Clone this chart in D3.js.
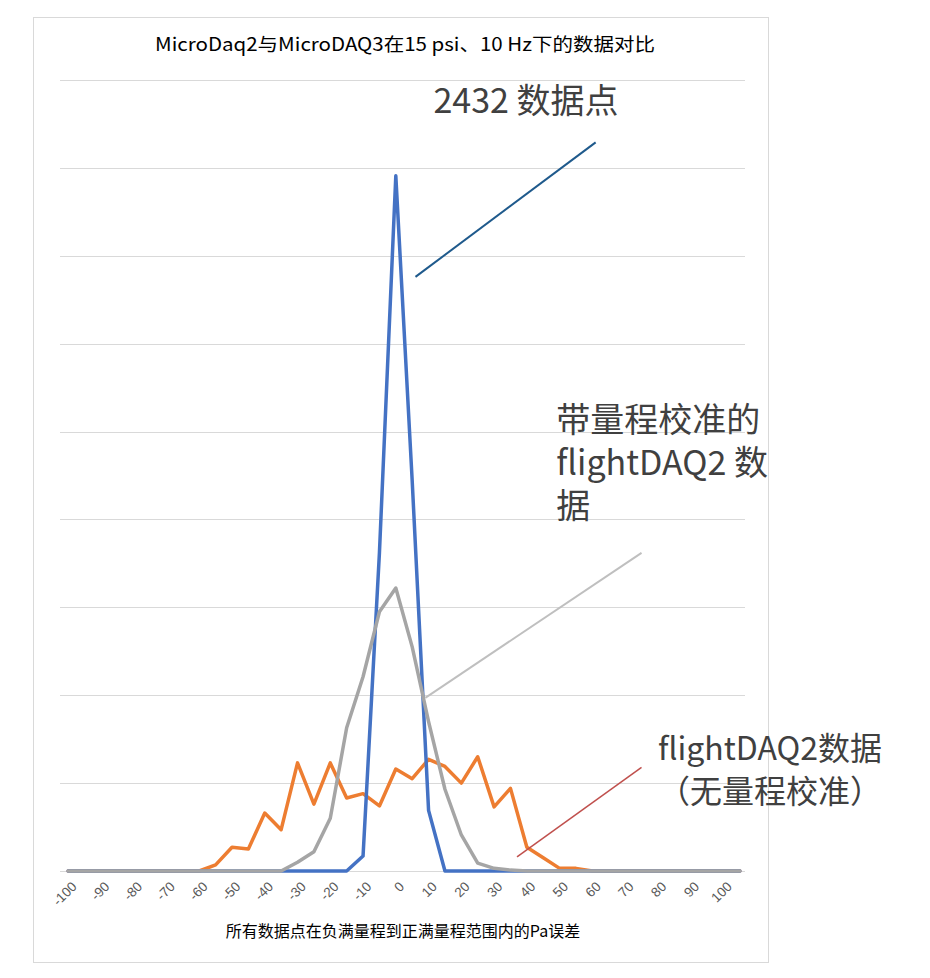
<!DOCTYPE html>
<html>
<head>
<meta charset="utf-8">
<script src="https://cdn.jsdelivr.net/npm/d3@7"></script>
<style>
  body { margin: 0; background: #fff; }
  svg text { font-family: "Noto Sans CJK SC", "Noto Sans", sans-serif; }
</style>
</head>
<body>
<div id="wrapper"></div>
<script>
// categories: Pa error bins
const categories = [-100, -95, -90, -85, -80, -75, -70, -65, -60, -55, -50, -45, -40, -35,
    -30, -25, -20, -15, -10, -5, 0, 5, 10, 15, 20, 25, 30, 35, 40, 45, 50, 55, 60, 65,
    70, 75, 80, 85, 90, 95, 100, 105];

// MicroDAQ (blue)
const blueValues = [0, 0, 0, 0, 0, 0, 0, 0, 0, 0, 0, 0, 0, 0,
    0, 0, 0, 0, 17, 362, 791, 444, 69, 0, 0, 0, 0, 0, 0, 0, 0, 0, 0, 0,
    0, 0, 0, 0, 0, 0, 0, 0];

// flightDAQ2 with range calibration (gray)
const grayValues = [0, 0, 0, 0, 0, 0, 0, 0, 0, 0, 0, 0, 0, 0,
    10, 22, 60, 163, 221, 295, 322, 255, 170, 93, 41, 9, 3, 1, 0, 0, 0, 0, 0, 0,
    0, 0, 0, 0, 0, 0, 0, 0];

// flightDAQ2 without range calibration (orange)
const orangeValues = [0, 0, 0, 0, 0, 0, 0, 0, 0, 7, 27, 25, 66, 47,
    123, 76, 123, 83, 88, 74, 116, 105, 127, 119, 100, 130, 73, 94, 27, 15, 3, 3, 0, 0,
    0, 0, 0, 0, 0, 0, 0, 0];

const tickLabels = [-100, -90, -80, -70, -60, -50, -40, -30, -20, -10, 0, 10, 20, 30, 40, 50, 60, 70, 80, 90, 100];
const gridTicks = [0, 100, 200, 300, 400, 500, 600, 700, 800, 900];

const title = "MicroDaq2与MicroDAQ3在15 psi、10 Hz下的数据对比";
const xTitle = "所有数据点在负满量程到正满量程范围内的Pa误差";

var dimension = {
    width: 930,
    height: 978,
    margin: { top: 80, left: 60, bottom: 107, right: 182 }
};
dimension.boundedWidth = dimension.width - dimension.margin.left - dimension.margin.right;
dimension.boundedHeight = dimension.height - dimension.margin.top - dimension.margin.bottom;

const svg = d3.select("#wrapper").append("svg")
    .attr("width", dimension.width)
    .attr("height", dimension.height);

// chart area border
svg.append("rect")
    .attr("x", 33.5).attr("y", 17.5)
    .attr("width", 735).attr("height", 945)
    .attr("fill", "#fff")
    .attr("stroke", "#d9d9d9");

const xScaler = d3.scalePoint()
    .domain(categories)
    .range([dimension.margin.left, dimension.margin.left + dimension.boundedWidth])
    .padding(0.5);

// continuous version of the category axis, for annotations
const xLin = d3.scaleLinear()
    .domain([categories[0], categories[categories.length - 1]])
    .range([xScaler(categories[0]), xScaler(categories[categories.length - 1])]);

const yScaler = d3.scaleLinear()
    .domain([0, 900])
    .range([dimension.margin.top + dimension.boundedHeight, dimension.margin.top]);

// gridlines
svg.append("g")
    .selectAll("line")
    .data(gridTicks)
    .join("line")
    .attr("x1", dimension.margin.left)
    .attr("x2", dimension.margin.left + dimension.boundedWidth - 3)
    .attr("y1", d => Math.round(yScaler(d)) + 0.5)
    .attr("y2", d => Math.round(yScaler(d)) + 0.5)
    .attr("stroke", "#d9d9d9")
    .attr("stroke-width", 1);

// tick labels
svg.append("g")
    .selectAll("text")
    .data(tickLabels)
    .join("text")
    .attr("transform", d => `translate(${xScaler(d) + 6}, ${yScaler(0) + 13}) rotate(-45)`)
    .attr("text-anchor", "end")
    .attr("dy", "0.35em")
    .attr("font-size", 13.5)
    .style("font-family", "'Liberation Sans', sans-serif")
    .attr("fill", "#595959")
    .text(d => d);

// lines
const series = [
    { values: orangeValues, color: "#ED7D31" },
    { values: blueValues, color: "#4472C4" },
    { values: grayValues, color: "#A5A5A5" }
];

const lineGenerator = d3.line()
    .x((d, i) => xScaler(categories[i]))
    .y(d => yScaler(d));

svg.append("g")
    .selectAll("path")
    .data(series)
    .join("path")
    .attr("d", d => lineGenerator(d.values))
    .attr("fill", "none")
    .attr("stroke", d => d.color)
    .attr("stroke-width", 3.5)
    .attr("stroke-linejoin", "round")
    .attr("stroke-linecap", "round");

// title
svg.append("text")
    .attr("x", 405).attr("y", 51)
    .attr("text-anchor", "middle")
    .attr("font-size", 18.5)
    .attr("textLength", 500)
    .attr("lengthAdjust", "spacingAndGlyphs")
    .attr("fill", "#000")
    .text(title);

// x axis title
svg.append("text")
    .attr("x", 403).attr("y", 937)
    .attr("text-anchor", "middle")
    .attr("font-size", 16)
    .attr("fill", "#000")
    .text(xTitle);

// annotations (in data coordinates)
const leaders = [
    { x1: 6, y1: 676, x2: 61, y2: 829, color: "#1F5A8C", w: 2 },
    { x1: 9, y1: 197, x2: 75, y2: 362, color: "#BFBFBF", w: 2 },
    { x1: 37, y1: 16, x2: 75, y2: 118, color: "#C0504D", w: 1.5 }
];

svg.append("g")
    .selectAll("line")
    .data(leaders)
    .join("line")
    .attr("x1", d => xLin(d.x1)).attr("y1", d => yScaler(d.y1))
    .attr("x2", d => xLin(d.x2)).attr("y2", d => yScaler(d.y2))
    .attr("stroke", d => d.color)
    .attr("stroke-width", d => d.w);

const notes = [
    { x: 11.5, y: 862, size: 34, lines: ["2432 数据点"] },
    { x: 49, y: 499, size: 34, lines: ["带量程校准的", "flightDAQ2 数", "据"] },
    { x: 80, y: 126, size: 32, lines: ["flightDAQ2数据", "（无量程校准）"] }
];

notes.forEach(n => {
    const t = svg.append("text")
        .attr("x", xLin(n.x))
        .attr("y", yScaler(n.y))
        .attr("font-size", n.size)
        .attr("fill", "#404040");
    n.lines.forEach((l, i) => {
        t.append("tspan")
            .attr("x", xLin(n.x))
            .attr("dy", i === 0 ? 0 : 43)
            .text(l);
    });
});
</script>
</body>
</html>
